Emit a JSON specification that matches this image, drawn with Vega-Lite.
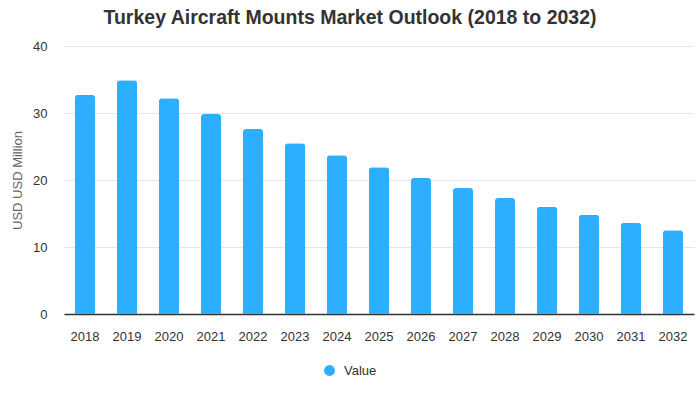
{
  "$schema": "https://vega.github.io/schema/vega-lite/v6.json",
  "width": 630,
  "height": 268,
  "autosize": {"type": "none"},
  "padding": {"left": 64, "top": 46, "right": 6, "bottom": 86},
  "background": "white",
  "title": {
    "text": "Turkey Aircraft Mounts Market Outlook (2018 to 2032)",
    "anchor": "middle",
    "frame": "group",
    "dx": -29,
    "offset": 12,
    "fontSize": 19.5,
    "fontWeight": "bold",
    "font": "Liberation Sans",
    "color": "#333333"
  },
  "data": {
    "values": [
      {"year": "2018", "value": 32.7},
      {"year": "2019", "value": 34.9},
      {"year": "2020", "value": 32.2},
      {"year": "2021", "value": 29.85},
      {"year": "2022", "value": 27.6},
      {"year": "2023", "value": 25.5},
      {"year": "2024", "value": 23.7},
      {"year": "2025", "value": 21.9},
      {"year": "2026", "value": 20.3},
      {"year": "2027", "value": 18.8},
      {"year": "2028", "value": 17.3},
      {"year": "2029", "value": 16.0},
      {"year": "2030", "value": 14.8},
      {"year": "2031", "value": 13.6},
      {"year": "2032", "value": 12.5}
    ]
  },
  "mark": {"type": "bar", "cornerRadiusTopLeft": 3, "cornerRadiusTopRight": 3},
  "encoding": {
    "x": {
      "field": "year",
      "type": "ordinal",
      "scale": {"paddingInner": 0.52, "paddingOuter": 0.26},
      "axis": {
        "title": null,
        "labelAngle": 0,
        "ticks": false,
        "domainColor": "#333333",
        "domainWidth": 1.5,
        "labelPadding": 16,
        "labelFontSize": 13,
        "labelFont": "Liberation Sans",
        "labelColor": "#333333",
        "grid": false
      }
    },
    "y": {
      "field": "value",
      "type": "quantitative",
      "scale": {"domain": [0, 40]},
      "axis": {
        "title": "USD USD Million",
        "titleFont": "Liberation Sans",
        "titleFontSize": 13,
        "titleFontWeight": "normal",
        "titleColor": "#666666",
        "titlePadding": 8,
        "values": [0, 10, 20, 30, 40],
        "domain": false,
        "ticks": false,
        "labelPadding": 17,
        "labelFontSize": 13,
        "labelFont": "Liberation Sans",
        "labelColor": "#333333",
        "gridColor": "#e6e6e6"
      }
    },
    "color": {
      "datum": "Value",
      "type": "nominal",
      "scale": {"range": ["#2CAFFE"]},
      "legend": {
        "title": null,
        "orient": "none",
        "legendX": 259,
        "legendY": 318,
        "padding": 0,
        "symbolType": "circle",
        "symbolSize": 120,
        "labelFont": "Liberation Sans",
        "labelFontSize": 13,
        "labelColor": "#333333",
        "labelOffset": 8
      }
    }
  },
  "config": {"view": {"stroke": null}}
}
